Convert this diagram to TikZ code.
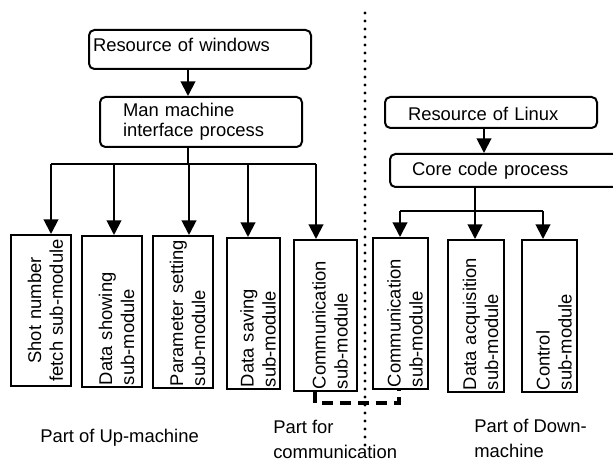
\documentclass[tikz,border=0pt]{standalone}
\usepackage{fontspec}
\setmainfont{Liberation Sans}
\usetikzlibrary{arrows.meta}

\begin{document}
\begin{tikzpicture}[x=0.75pt,y=-0.75pt,
  every node/.style={font=\fontsize{13.8}{16}\selectfont, inner sep=0pt},
  proc/.style={draw, rounded corners=4pt, line width=1.5pt, align=left, inner ysep=0pt},
  vmod/.style n args={3}{draw, line width=1.5pt, rotate=90,
    minimum width=#1, minimum height=#2, inner xsep=1.5pt, inner ysep=0pt,
    text width=#3, align=left, text depth=10pt,
    font=\fontsize{13.8}{16.5}\selectfont},
  conn/.style={line width=1.5pt},
  arr/.style={line width=1.5pt, -{Triangle[length=11pt,width=11pt]}},
  divider/.style={line width=2.3pt, line cap=round, dash pattern=on 0pt off 6pt},
  dlink/.style={line width=2.5pt, dash pattern=on 8pt off 5.5pt},
  caption/.style={anchor=west, align=left, font=\fontsize{13.8}{18.75}\selectfont}]

\useasboundingbox (0,0) rectangle (613,463);
\clip (0,0) rectangle (613,463);

% ---------- up-machine (Windows side) ----------
\node[proc, minimum width=166.5pt, minimum height=29.25pt, inner xsep=3pt,
      text width=160.5pt, text height=10pt, text depth=7pt]
  (rw) at (200,49.5) {Resource of windows};
\node[proc, minimum width=151.5pt, minimum height=37.5pt, inner xsep=17.25pt,
      text width=117pt, font=\fontsize{13.8}{15}\selectfont]
  (mm) at (201,122) {Man machine\\interface process};

\node[vmod={113.25pt}{45pt}{110.25pt}, align=center] (b1) at (41,310.5) {Shot number\\fetch sub-module};
\node[vmod={113.25pt}{45pt}{110.25pt}] (b2) at (112,311.5) {Data showing\\sub-module};
\node[vmod={114pt}{45pt}{111pt}] (b3) at (183,312) {Parameter setting\\sub-module};
\node[vmod={113.25pt}{39.75pt}{110.25pt}] (b4) at (253.5,313.5) {Data saving\\sub-module};
\node[vmod={113.25pt}{47.25pt}{110.25pt}] (b5) at (325.5,315.5) {Communication\\sub-module};

\coordinate (ujoin) at (188,164);
\coordinate (u1) at (51,164);
\coordinate (u2) at (114,164);
\coordinate (u3) at (189,164);
\coordinate (u4) at (248,164);
\coordinate (u5) at (316,164);

\draw[arr] (ujoin |- rw.south) -- (ujoin |- mm.north);
\draw[conn] (ujoin |- mm.south) -- (ujoin);
\draw[conn] (u1) -- (u5);
\foreach \i in {1,...,5}
  \draw[arr] (u\i) -- (u\i |- b\i.east);

% ---------- down-machine (Linux side) ----------
\node[proc, minimum width=159pt, minimum height=23.25pt, inner xsep=17.25pt,
      text width=124.5pt, text height=12pt, text depth=0pt]
  (rl) at (491,112.5) {Resource of Linux};
\node[proc, minimum width=187.5pt, minimum height=24.75pt, inner xsep=16.5pt,
      text width=154.5pt]
  (cc) at (515,170.5) {Core code process};

\node[vmod={113.25pt}{41.25pt}{110.25pt}] (d1) at (400.5,313.5) {Communication\\sub-module};
\node[vmod={114pt}{42pt}{111pt}] (d2) at (476,316) {Data acquisition\\sub-module};
\node[vmod={114pt}{41.25pt}{111pt}] (d3) at (549.5,316) {Control\\sub-module};

\coordinate (djoin) at (484,0);
\coordinate (d1c) at (400,211);
\coordinate (d2c) at (475,211);
\coordinate (d3c) at (543,211);

\draw[arr] (djoin |- rl.south) -- (djoin |- cc.north);
\draw[conn] (d2c |- cc.south) -- (d2c);
\draw[conn] (d1c) -- (d3c);
\foreach \i in {1,2,3}
  \draw[arr] (d\i c) -- (d\i c |- d\i.east);

% ---------- link between the two communication sub-modules ----------
\draw[dlink] ([xshift=-7.9pt]b5.west) -- ++(0,11) -| ([xshift=-1.1pt]d1.west);

% ---------- dividing line ----------
\coordinate (divtop) at (365,13);
\coordinate (divbot) at (365,450);
\draw[divider] (divtop) -- (divbot);

% ---------- captions ----------
\node[caption] (lup) at (40,438) {Part of Up-machine};
\node[caption] (lcomm) at (273,439.5) {Part for\\communication};
\node[caption] (ldown) at (474,438.5) {Part of Down-\\machine};

\end{tikzpicture}
\end{document}
